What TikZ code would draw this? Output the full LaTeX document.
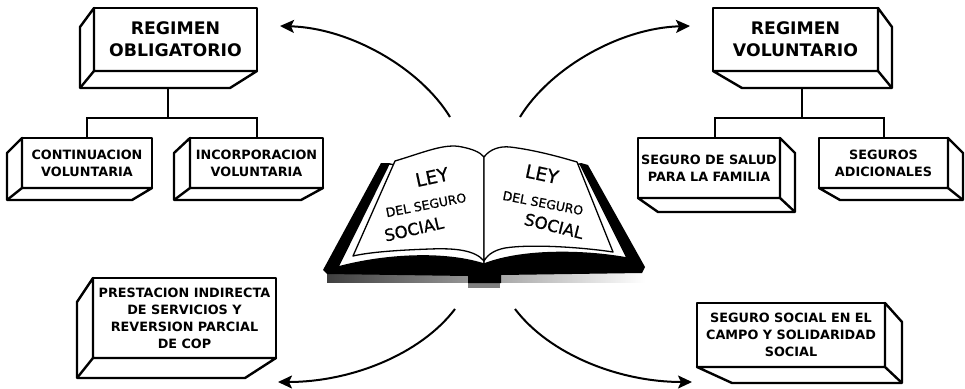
\documentclass[tikz,border=0pt]{standalone}
\usepackage{fontspec}
\setmainfont{DejaVu Sans}
\newfontfamily\bookfont{DejaVu Sans}[FakeBold=0.7]
\usetikzlibrary{arrows.meta,calc}
\tikzset{
  frontface/.style={draw, line width=2.4pt, fill=white, inner sep=0pt, outer sep=0pt, align=center, line join=round},
  sideface/.style={draw, line width=2.4pt, fill=white, line join=round},
  bigtxt/.style={font=\bfseries\fontsize{17.3}{22}\selectfont},
  smalltxt/.style={font=\bfseries\fontsize{12.8}{17}\selectfont},
  midtxt/.style={font=\bfseries\fontsize{12.8}{17.3}\selectfont},
  connline/.style={line width=2pt},
  arrowline/.style={line width=2pt, -{Stealth[length=14pt,width=13pt,inset=3pt]}},
  pagestyle/.style={fill=white, draw=black, line width=1.3pt, line join=round},
  bookbig/.style={font=\bookfont\fontsize{18.5}{18.5}\selectfont, inner sep=0pt},
  booksmall/.style={font=\bookfont\fontsize{12.5}{12.5}\selectfont, inner sep=0pt},
  bookmid/.style={font=\bookfont\fontsize{16.5}{16.5}\selectfont, inner sep=0pt}
}
\newcommand{\extrudeL}[5]{%
  \draw[sideface] (#1.north west) -- ++(#2,#3) -- ($(#1.south west)+(#2,#4)$) -- ($(#1.south east)+(#5,#4)$) -- (#1.south east) -- (#1.south west) -- cycle;
  \draw[sideface] (#1.south west) -- ++(#2,#4);}
\newcommand{\extrudeR}[5]{%
  \draw[sideface] (#1.north east) -- ++(#2,#3) -- ($(#1.south east)+(#2,#4)$) -- ($(#1.south west)+(#5,#4)$) -- (#1.south west) -- (#1.south east) -- cycle;
  \draw[sideface] (#1.south east) -- ++(#2,#4);}
\begin{document}
\begin{tikzpicture}[x=1pt,y=-1pt]
\useasboundingbox (0,0) rectangle (965,388);
% ---------- book ----------
\shade[left color=black!75, right color=white] (327,272) rectangle (645,282);
\fill[black!50] (468,281) rectangle (500,288);
\fill[black] (381,163) -- (389,163) -- (484,205) -- (581,163) -- (588,165) -- (645,267) -- (642,273) -- (501,275) -- (501,283) -- (468,283) -- (468,276) -- (327,274) -- (323,270) -- cycle;
\draw[pagestyle] (389,164) -- (338,267) .. controls (378,256) and (440,250) .. (484,264) -- (484,175) -- cycle;
\draw[pagestyle] (580,164) -- (627,258) .. controls (590,251) and (525,248) .. (484,264) -- (484,175) -- cycle;
\draw[pagestyle] (395,161) .. controls (425,152) and (445,143) .. (462,147) .. controls (472,149) and (480,152) .. (484,157) -- (484,261) .. controls (475,250) and (455,248) .. (430,249) .. controls (400,250) and (370,252) .. (353,256) -- cycle;
\draw[pagestyle] (484,157) .. controls (490,149) and (500,146) .. (510,147) .. controls (535,150) and (560,157) .. (577,162) -- (613,252) .. controls (580,247) and (530,244) .. (505,248) .. controls (495,250) and (488,254) .. (484,261) -- cycle;
\node[bookbig, rotate=12] (leyL) at (432,177) {LEY};
\node[booksmall, rotate=11] (delL) at (426,205) {DEL SEGURO};
\node[bookmid, rotate=13] (socL) at (414,229) {SOCIAL};
\node[bookbig, rotate=-12] (leyR) at (542,174) {LEY};
\node[booksmall, rotate=-11] (delR) at (543,203) {DEL SEGURO};
\node[bookmid, rotate=-14] (socR) at (554,226) {SOCIAL};
% ---------- arrows ----------
\coordinate (a1s) at (450,117); \coordinate (a1e) at (280,26);
\coordinate (a2s) at (520,117); \coordinate (a2e) at (690,26);
\coordinate (a3s) at (455,309); \coordinate (a3e) at (278,382);
\coordinate (a4s) at (515,309); \coordinate (a4e) at (692,382);
\draw[arrowline] (a1s) .. controls (420,68) and (350,28) .. (a1e);
\draw[arrowline] (a2s) .. controls (550,68) and (620,28) .. (a2e);
\draw[arrowline] (a3s) .. controls (420,355) and (350,382) .. (a3e);
\draw[arrowline] (a4s) .. controls (550,355) and (620,382) .. (a4e);
% ---------- boxes ----------
\node[frontface, bigtxt, minimum width=163pt, minimum height=63pt] (B1) at (175.5,39.5) {REGIMEN\\OBLIGATORIO};
\extrudeL{B1}{-14}{19}{17}{-27}
\node[frontface, smalltxt, minimum width=130pt, minimum height=50pt] (C1) at (87,163) {CONTINUACION\\VOLUNTARIA};
\extrudeL{C1}{-15}{15}{12}{-20}
\node[frontface, smalltxt, minimum width=133pt, minimum height=50pt] (C2) at (256.5,163) {INCORPORACION\\VOLUNTARIA};
\extrudeL{C2}{-16}{15}{12}{-22}
\node[frontface, smalltxt, minimum width=183pt, minimum height=80pt] (P) at (184.5,318) {PRESTACION INDIRECTA\\DE SERVICIOS Y\\REVERSION PARCIAL\\DE COP};
\extrudeL{P}{-16}{24}{20}{-31}
\node[frontface, bigtxt, minimum width=165pt, minimum height=63pt] (B2) at (795.5,39.5) {REGIMEN\\VOLUNTARIO};
\extrudeR{B2}{14}{19}{17}{29}
\node[frontface, smalltxt, minimum width=142pt, minimum height=60pt] (S1) at (709,168) {SEGURO DE SALUD\\PARA LA FAMILIA};
\extrudeR{S1}{15}{15}{14}{20}
\node[frontface, smalltxt, minimum width=129pt, minimum height=50pt] (S2) at (883.5,163) {SEGUROS\\ADICIONALES};
\extrudeR{S2}{15}{15}{12}{21}
\node[frontface, midtxt, minimum width=188pt, minimum height=64pt] (SC) at (791,335) {SEGURO SOCIAL EN EL\\CAMPO Y SOLIDARIDAD\\SOCIAL};
\extrudeR{SC}{17}{19}{16}{35}
% ---------- tree connectors ----------
\coordinate (B1stem) at (168,88); \coordinate (B1j) at (168,118);
\draw[connline] (B1stem) -- (B1j);
\draw[connline] (C1.north) |- (B1j) -| (C2.north);
\coordinate (B2stem) at (802,88); \coordinate (B2j) at (802,118);
\draw[connline] (B2stem) -- (B2j);
\draw[connline] ([xshift=6pt]S1.north) |- (B2j) -| (S2.north);
\end{tikzpicture}
\end{document}
